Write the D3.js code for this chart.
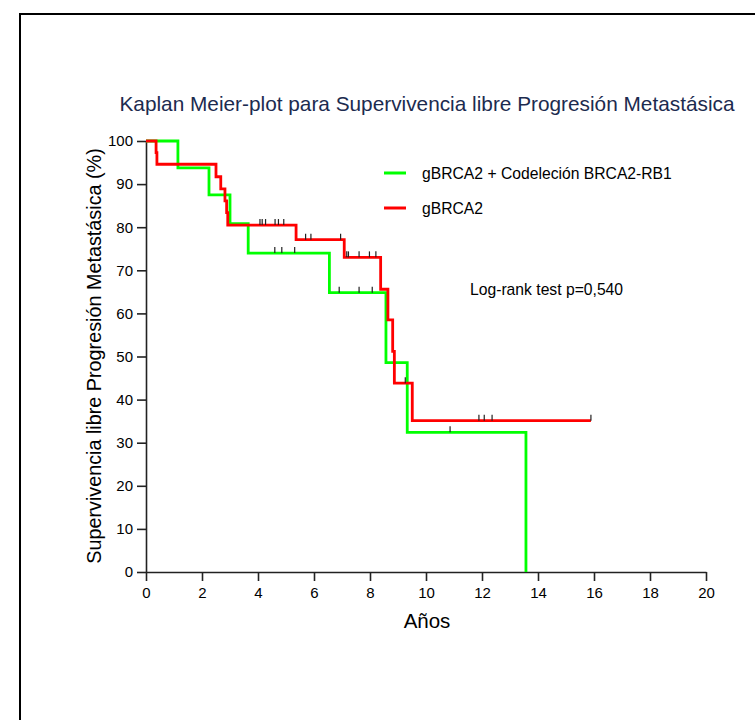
<!DOCTYPE html>
<html>
<head>
<meta charset="utf-8">
<script src="https://cdn.jsdelivr.net/npm/d3@7"></script>
<style>
  html, body { margin: 0; padding: 0; background: #fff; }
  svg { display: block; font-family: "Liberation Sans", Arial, Helvetica, sans-serif; }
</style>
</head>
<body>
<svg id="chart" width="755" height="720"></svg>
<script>
// Kaplan-Meier step data: [time in years, survival %] at each event
const groupNames = ["gBRCA2 + Codeleción BRCA2-RB1", "gBRCA2"];
const groupColors = ["#00ff00", "#ff0000"];

const codelSteps = [
  [0, 100], [1.14, 93.75], [2.25, 87.5], [3.0, 80.8], [3.65, 74.0],
  [6.55, 64.8], [8.57, 48.6], [9.33, 32.4], [13.57, 0]
];
const codelEnd = 13.57;
const codelCensored = [4.6, 4.85, 5.31, 6.9, 7.61, 8.08, 10.86];

const brcaSteps = [
  [0, 100], [0.36, 97.3], [0.39, 94.6], [2.5, 91.7], [2.67, 88.9],
  [2.82, 86.1], [2.88, 83.4], [2.92, 80.5], [5.36, 77.1], [7.08, 73.0],
  [8.38, 65.6], [8.64, 58.5], [8.81, 51.2], [8.87, 43.8], [9.51, 35.1]
];
const brcaEnd = 15.89;
const brcaCensored = [4.07, 4.15, 4.27, 4.61, 4.73, 4.92, 5.70, 5.89, 6.95,
  7.17, 7.23, 7.61, 7.98, 8.21, 9.26, 11.89, 12.08, 12.36, 15.89];

const xTicks = [0, 2, 4, 6, 8, 10, 12, 14, 16, 18, 20];
const yTicks = [0, 10, 20, 30, 40, 50, 60, 70, 80, 90, 100];

const titleText = "Kaplan Meier-plot para Supervivencia libre Progresión Metastásica";
const xLabel = "Años";
const yLabel = "Supervivencia libre Progresión Metastásica (%)";
const testText = "Log-rank test p=0,540";

const svg = d3.select("#chart");

// outer frame (only its top and left edges fall inside the page)
svg.append("rect")
  .attr("x", 20).attr("y", 14)
  .attr("width", 800).attr("height", 800)
  .attr("fill", "none").attr("stroke", "#000").attr("stroke-width", 2);

const x = d3.scaleLinear().domain([0, 20]).range([146, 706]);
const y = d3.scaleLinear().domain([0, 100]).range([572, 141]);

// axes
const xAxis = svg.append("g")
  .attr("transform", `translate(0,${y(0)})`)
  .call(d3.axisBottom(x).tickValues(xTicks).tickSize(9).tickPadding(6).tickSizeOuter(0));
const yAxis = svg.append("g")
  .attr("transform", `translate(${x(0)},0)`)
  .call(d3.axisLeft(y).tickValues(yTicks).tickSize(9).tickPadding(4).tickSizeOuter(0));
[xAxis, yAxis].forEach(g => {
  g.select(".domain").attr("stroke", "#222").attr("stroke-width", 1.6);
  g.selectAll(".tick line").attr("stroke", "#222").attr("stroke-width", 1.6);
  g.selectAll(".tick text").attr("fill", "#000")
    .style("font-size", "15px").style("font-family", "Liberation Sans, Arial, sans-serif");
});

// step path through the event points, extended to the last follow-up time
function stepPath(steps, end) {
  const pts = [];
  steps.forEach((d, i) => {
    if (i > 0) pts.push([d[0], steps[i - 1][1]]);
    pts.push(d);
  });
  const last = steps[steps.length - 1];
  if (end > last[0]) pts.push([end, last[1]]);
  return d3.line().x(d => x(d[0])).y(d => y(d[1]))(pts);
}
function survivalAt(steps, t) {
  let s = steps[0][1];
  steps.forEach(d => { if (d[0] <= t) s = d[1]; });
  return s;
}

const groups = [
  { steps: codelSteps, end: codelEnd, cens: codelCensored, color: groupColors[0] },
  { steps: brcaSteps, end: brcaEnd, cens: brcaCensored, color: groupColors[1] }
];

groups.forEach(g => {
  svg.append("path")
    .attr("d", stepPath(g.steps, g.end))
    .attr("fill", "none")
    .attr("stroke", g.color)
    .attr("stroke-width", 2.8)
    .attr("stroke-linejoin", "miter");
});

// censoring marks
groups.forEach(g => {
  svg.append("g").selectAll("line")
    .data(g.cens)
    .join("line")
    .attr("x1", d => x(d)).attr("x2", d => x(d))
    .attr("y1", d => y(survivalAt(g.steps, d)) - 6)
    .attr("y2", d => y(survivalAt(g.steps, d)))
    .attr("stroke", "#222").attr("stroke-width", 1.2);
});

// title
svg.append("text")
  .attr("x", 427).attr("y", 111)
  .attr("text-anchor", "middle")
  .attr("fill", "#1c2b4f")
  .style("font-size", "20.8px")
  .text(titleText);

// axis titles
svg.append("text")
  .attr("x", 427).attr("y", 628)
  .attr("text-anchor", "middle")
  .style("font-size", "20.5px")
  .text(xLabel);
svg.append("text")
  .attr("transform", `translate(101,356) rotate(-90)`)
  .attr("text-anchor", "middle")
  .style("font-size", "19.8px")
  .text(yLabel);

// legend
const legend = svg.append("g");
groupNames.forEach((name, i) => {
  const ly = 173 + i * 35;
  legend.append("line")
    .attr("x1", 384).attr("x2", 406).attr("y1", ly).attr("y2", ly)
    .attr("stroke", groupColors[i]).attr("stroke-width", 3);
  legend.append("text")
    .attr("x", 422).attr("y", ly + 5.5)
    .style("font-size", "15.7px")
    .text(name);
});

// test annotation
svg.append("text")
  .attr("x", 470).attr("y", 295)
  .style("font-size", "15.7px")
  .text(testText);
</script>
</body>
</html>
